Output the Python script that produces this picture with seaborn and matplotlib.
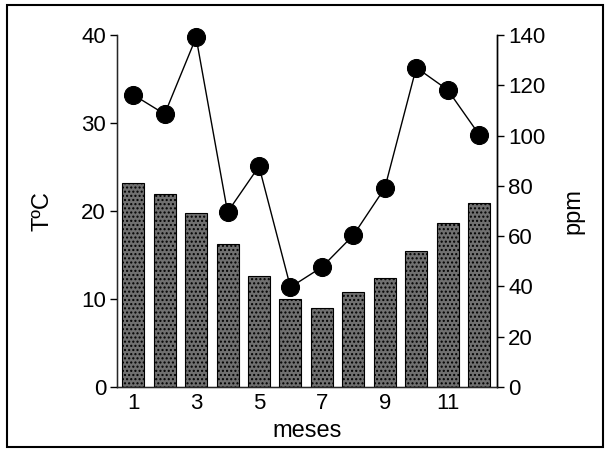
import matplotlib
matplotlib.use("Agg")
import matplotlib.pyplot as plt
import seaborn as sns
import pandas as pd
from matplotlib.patches import Rectangle

months = list(range(1, 13))
temp = [23.2, 21.9, 19.8, 16.3, 12.6, 10.0, 9.0, 10.8, 12.4, 15.5, 18.6, 20.9]
ppm = [116.3, 108.6, 139.1, 69.6, 87.8, 39.7, 47.7, 60.4, 79.2, 127.1, 118.2, 100.4]
left_ticks = [0, 10, 20, 30, 40]
right_ticks = [0, 20, 40, 60, 80, 100, 120, 140]
x_ticks = [1, 3, 5, 7, 9, 11]

sns.set_style("white")
plt.rcParams['font.family'] = ['Liberation Sans Narrow', 'Liberation Sans', 'DejaVu Sans']
plt.rcParams['text.color'] = 'black'
plt.rcParams['axes.labelcolor'] = 'black'
plt.rcParams['xtick.color'] = 'black'
plt.rcParams['ytick.color'] = 'black'
plt.rcParams['hatch.color'] = '#2e2e2e'

df = pd.DataFrame({"mes": months, "temp": temp, "ppm": ppm})

fig = plt.figure(figsize=(6.07, 4.51), dpi=100)
ax = fig.add_axes([0.193, 0.142, 0.626, 0.780])

ax.bar(df["mes"], df["temp"], width=0.7, color="#707070", edgecolor="black",
       linewidth=0.8, hatch="....")
ax.set_xlim(0.49, 12.57)
ax.set_ylim(0, 40)
ax.set_yticks(left_ticks)
ax.set_xticks(x_ticks)
ax.set_xticklabels([str(t) for t in x_ticks])
ax.tick_params(axis="x", length=0, labelsize=16, pad=4)
ax.tick_params(axis="y", direction="out", length=5, width=1, labelsize=16, pad=3, left=True)
ax.set_ylabel("TºC", fontsize=17, labelpad=20)
ax.set_xlabel("meses", fontsize=17, labelpad=5)
ax.spines["top"].set_visible(False)
for s in ["left", "bottom", "right"]:
    ax.spines[s].set_color("black")
    ax.spines[s].set_linewidth(1.0)

ax2 = ax.twinx()
sns.lineplot(data=df, x="mes", y="ppm", ax=ax2, color="black", linewidth=1.0,
             marker="o", markersize=13, markeredgecolor="black", markerfacecolor="black",
             clip_on=False)
ax2.set_ylim(0, 140)
ax2.set_yticks(right_ticks)
ax2.tick_params(axis="y", direction="out", length=5, width=1, labelsize=16, pad=3, right=True)
ax2.set_ylabel("ppm", fontsize=17, labelpad=12, rotation=90)
ax2.spines["top"].set_visible(False)
ax2.spines["right"].set_color("black")
ax2.spines["right"].set_linewidth(1.0)
ax2.set_xlabel("")

fig.patches.append(Rectangle((0.012, 0.008), 0.982, 0.982, transform=fig.transFigure,
                             fill=False, edgecolor="black", linewidth=1.5))

fig.savefig("out.png", dpi=100)
